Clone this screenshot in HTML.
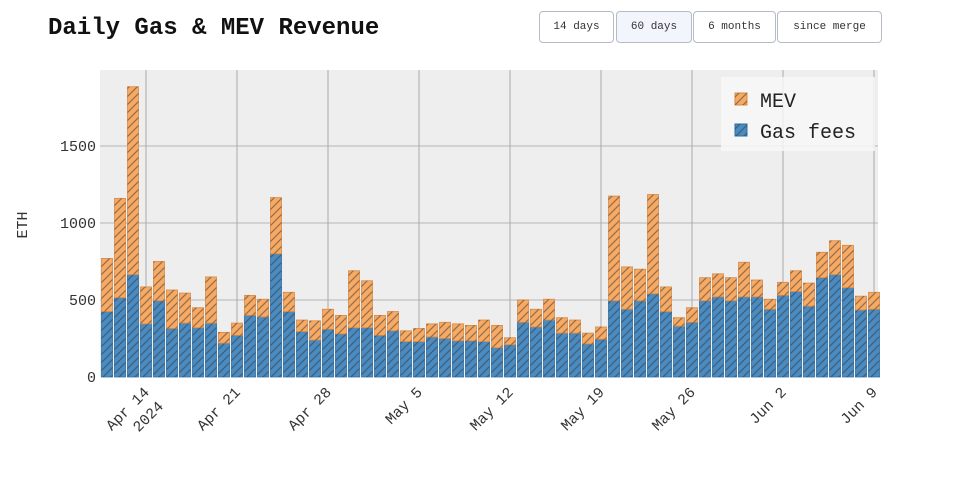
<!DOCTYPE html>
<html><head><meta charset="utf-8"><style>
body{margin:0;background:#fff;width:960px;height:500px;overflow:hidden;font-family:"Liberation Mono",monospace;}
.btn{position:absolute;top:11px;height:32px;border:1px solid #b5bcc8;border-radius:4px;background:#fff;font-size:11px;color:#333;display:flex;align-items:center;justify-content:center;box-sizing:border-box;}
</style></head><body>
<div style="position:absolute;left:48px;top:15px;font-size:24px;font-weight:bold;color:#111;">Daily Gas &amp; MEV Revenue</div>
<div class="btn" style="left:539px;width:75px;">14 days</div>
<div class="btn" style="left:616px;width:76px;background:#f2f6fc;">60 days</div>
<div class="btn" style="left:693px;width:83px;">6 months</div>
<div class="btn" style="left:777px;width:105px;">since merge</div>
<svg id="chart" width="960" height="500" style="position:absolute;left:0;top:0;">
<defs>
<pattern id="hatch" patternUnits="userSpaceOnUse" width="8" height="8"><path d="M-2,10 L10,-2 M-2,2 L2,-2 M6,10 L10,6" stroke="#333" stroke-opacity="0.5" stroke-width="1.3"/></pattern>
</defs>
</svg>
<script>
const days=["Apr 11","Apr 12","Apr 13","Apr 14","Apr 15","Apr 16","Apr 17","Apr 18","Apr 19","Apr 20","Apr 21","Apr 22","Apr 23","Apr 24","Apr 25","Apr 26","Apr 27","Apr 28","Apr 29","Apr 30","May 1","May 2","May 3","May 4","May 5","May 6","May 7","May 8","May 9","May 10","May 11","May 12","May 13","May 14","May 15","May 16","May 17","May 18","May 19","May 20","May 21","May 22","May 23","May 24","May 25","May 26","May 27","May 28","May 29","May 30","May 31","Jun 1","Jun 2","Jun 3","Jun 4","Jun 5","Jun 6","Jun 7","Jun 8","Jun 9"];
const gasFees=[425,515,665,345,495,315,350,320,350,220,270,400,390,800,425,295,240,310,280,320,320,270,300,230,230,260,250,235,235,230,190,210,355,325,370,285,285,215,245,495,440,495,540,425,330,355,495,520,495,520,520,440,530,555,460,645,665,580,435,440];
const mevTotal=[770,1160,1885,585,750,565,545,450,650,290,350,530,505,1165,550,370,365,440,400,690,625,400,425,300,315,345,355,345,335,370,335,255,500,440,505,385,370,285,325,1175,715,700,1185,585,385,450,645,670,645,745,630,505,615,690,610,810,885,855,525,550];
const yTicks=[0,500,1000,1500];
const xTickLabels=["Apr 14","Apr 21","Apr 28","May 5","May 12","May 19","May 26","Jun 2","Jun 9"];
const xTickIdx=[3,10,17,24,31,38,45,52,59];

const svg=document.getElementById('chart');const NS='http://www.w3.org/2000/svg';
const L=100,R=878,T=70,B=377;
const x=i=>107+i*13;const y=v=>B-v*0.154;
function mk(t,a,p){const e=document.createElementNS(NS,t);for(const k in a)e.setAttribute(k,a[k]);(p||svg).appendChild(e);return e;}
const bg=mk('rect',{x:L,y:T,width:R-L,height:B-T,fill:'#eeeeee'});


yTicks.forEach(v=>{if(v>0){const g=mk('line',{x1:L,x2:R,y1:y(v),y2:y(v),stroke:'#c8c8c8','stroke-width':1.5});

}
const t=mk('text',{x:96,y:y(v)+5,'text-anchor':'end','font-size':15,fill:'#333','font-family':'Liberation Mono, monospace'});t.textContent=v;

});
xTickIdx.forEach((d,k)=>{const xx=x(d);const g=mk('line',{x1:xx,x2:xx,y1:T,y2:B,stroke:'#aaa','stroke-width':1});


const t=mk('text',{x:xx+4,y:B+16,'text-anchor':'end','font-size':15,fill:'#333','font-family':'Liberation Mono, monospace',transform:`rotate(-45 ${xx+4} ${B+16})`});t.textContent=xTickLabels[k];


if(k===0){const t2=mk('text',{x:xx+4,y:B+16,'text-anchor':'end','font-size':15,fill:'#333','font-family':'Liberation Mono, monospace',transform:`rotate(-45 ${xx+4} ${B+16}) translate(0,20)`});t2.textContent='2024';

}});
gasFees.forEach((g,i)=>{const bx=x(i)-5.5,w=11;
[['#4a8bc2','#2f6ea3',0,g],['#f7aa63','#d98a45',g,mevTotal[i]]].forEach(([f,s,a,b],j)=>{
const r=mk('rect',{x:bx,y:y(b),width:w,height:y(a)-y(b),fill:f,stroke:s,'stroke-width':0.8});


const h=mk('rect',{x:bx,y:y(b),width:w,height:y(a)-y(b),fill:'url(#hatch)'});

});});
const yt=mk('text',{x:27,y:225,'text-anchor':'middle','font-size':15,fill:'#333','font-family':'Liberation Mono, monospace',transform:'rotate(-90 27 225)'});yt.textContent='ETH';


const lg=mk('g',{});


mk('rect',{x:721,y:77,width:154,height:74,fill:'#f7f7f7','fill-opacity':0.85},lg);
[['MEV','#f7aa63','#d98a45',100],['Gas fees','#4a8bc2','#2f6ea3',131]].forEach(([n,f,s,yy])=>{
const e=mk('g',{},lg);


mk('rect',{x:735,y:yy-7,width:12,height:12,fill:f,stroke:s},e);mk('rect',{x:735,y:yy-7,width:12,height:12,fill:'url(#hatch)'},e);
const t=mk('text',{x:760,y:yy+7,'font-size':20,fill:'#222','font-family':'Liberation Mono, monospace'},e);t.textContent=n;});
</script>
</body></html>
